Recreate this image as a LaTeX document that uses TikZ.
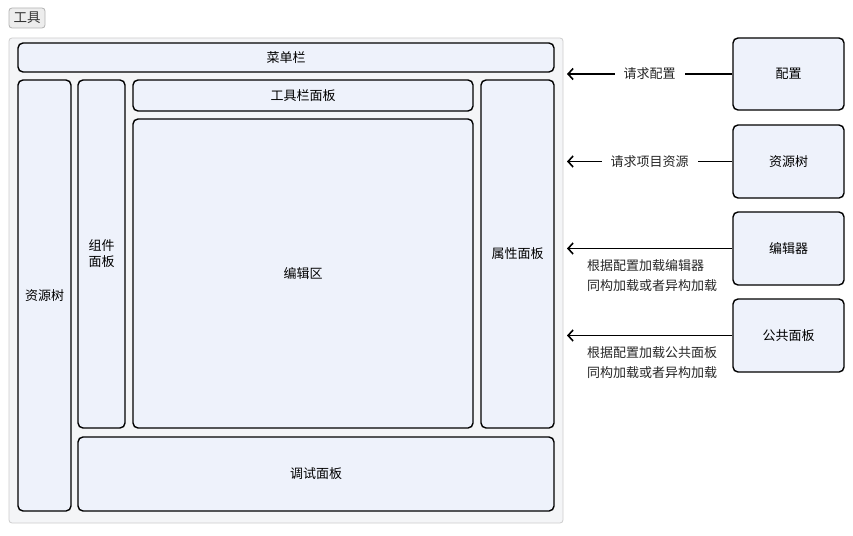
\documentclass[tikz,border=0pt]{standalone}
\usepackage{fontspec}
\setmainfont{Noto Sans CJK SC}
\usetikzlibrary{arrows.meta}
\definecolor{boxfill}{HTML}{EEF2FB}
\definecolor{grpfill}{HTML}{F4F5F7}
\definecolor{grpline}{HTML}{CDCDCD}
\begin{document}
\begin{tikzpicture}[x=1pt,y=-1pt,
  box/.style={draw=black, fill=boxfill, line width=1.4pt, rounded corners=5pt, inner sep=0pt, font=\fontsize{13}{16}\selectfont, align=center},
  arr/.style={line width=1.6pt, -{Straight Barb[length=5pt,width=11pt,line width=1.6pt]}},
  lbl/.style={font=\fontsize{13}{19.5}\selectfont, text=black!85}]
\useasboundingbox (0,0) rectangle (853,535);
% tag
\node[draw=black!30, fill=black!7, rounded corners=3pt, line width=0.8pt, inner sep=0pt, minimum width=36pt, minimum height=20pt, font=\fontsize{13.5}{15}\selectfont, text=black!80] (tag) at (27,18) {工具};
% group
\draw[draw=grpline, fill=grpfill, rounded corners=3pt, line width=0.8pt] (9,38) rectangle (563,523);
\node[box, minimum width=536pt, minimum height=29pt] (menu) at (286,57.5) {菜单栏};
\node[box, minimum width=53pt, minimum height=431pt] (res) at (44.5,295.5) {资源树};
\node[box, minimum width=47pt, minimum height=348pt] (comp) at (101.5,254) {组件\\面板};
\node[box, minimum width=340pt, minimum height=31pt] (toolbar) at (303,95.5) {工具栏面板};
\node[box, minimum width=340pt, minimum height=309pt] (edit) at (303,273.5) {编辑区};
\node[box, minimum width=73pt, minimum height=348pt] (prop) at (517.5,254) {属性面板};
\node[box, minimum width=476pt, minimum height=74pt] (debug) at (316,474) {调试面板};
% right boxes
\node[box, minimum width=111pt, minimum height=72pt] (cfg) at (788.5,74) {配置};
\node[box, minimum width=111pt, minimum height=73pt] (rtree) at (788.5,161.5) {资源树};
\node[box, minimum width=111pt, minimum height=73pt] (edr) at (788.5,248.5) {编辑器};
\node[box, minimum width=111pt, minimum height=73pt] (pub) at (788.5,335.5) {公共面板};
% arrow ends
\coordinate (e1) at (567,74);
\coordinate (e2) at (567,161.5);
\coordinate (e3) at (567,248.5);
\coordinate (e4) at (567,335.5);
\draw[arr] (cfg.west) -- node[lbl, fill=white, inner xsep=9pt, inner ysep=1pt] (l1) {请求配置} (e1);
\draw[arr] (rtree.west) -- node[lbl, fill=white, inner xsep=9pt, inner ysep=1pt] (l2) {请求项目资源} (e2);
\draw[arr] (edr.west) -- (e3);
\draw[arr] (pub.west) -- (e4);
\node[lbl, anchor=west, align=left, inner sep=0pt] (l3) at (587,275.5) {根据配置加载编辑器\\同构加载或者异构加载};
\node[lbl, anchor=west, align=left, inner sep=0pt] (l4) at (587,362.5) {根据配置加载公共面板\\同构加载或者异构加载};
\end{tikzpicture}
\end{document}
